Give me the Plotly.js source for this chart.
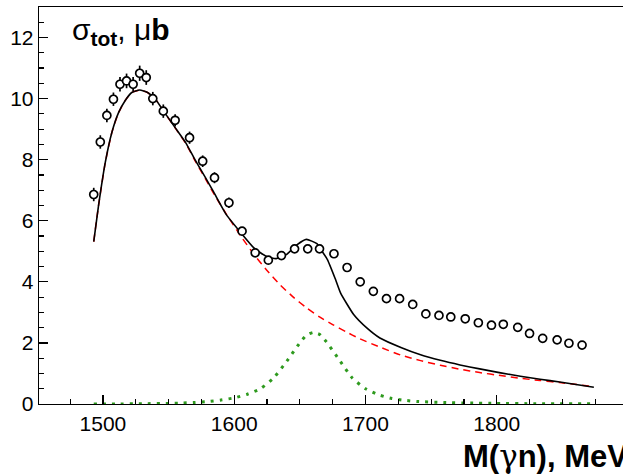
<!DOCTYPE html>
<html><head><meta charset="utf-8">
<script src="https://cdn.plot.ly/plotly-3.0.1.min.js"></script>
<style>html,body{margin:0;padding:0;overflow:hidden;background:#fff;width:623px;height:475px}#chart{width:640px;height:475px}</style>
</head><body><div id="chart"></div><script>
// Measured cross section
const dataX = [1493,1498,1503,1508,1513,1518,1523,1528,1533,1538,1546,1555,1566,1576,1585,1596,1606,1616,1626,1636,1646,1656,1665,1676,1686,1696,1706,1716,1726,1736,1746,1756,1765,1776,1786,1796,1805,1816,1825,1835,1846,1855,1865];
const dataY = [6.86,8.58,9.45,9.98,10.47,10.58,10.47,10.83,10.69,10.0,9.59,9.29,8.72,7.95,7.41,6.59,5.66,4.95,4.71,4.86,5.08,5.08,5.08,4.92,4.47,4.0,3.69,3.45,3.45,3.26,2.95,2.9,2.85,2.79,2.66,2.58,2.61,2.51,2.31,2.15,2.10,1.99,1.93];
const dataErr = [0.22,0.22,0.22,0.22,0.24,0.24,0.24,0.25,0.24,0.22,0.22,0.2,0.2,0.19,0.18,0.17,0.14,0.11,0.07,0.07,0.07,0.07,0.07,0.07,0.07,0.07,0.07,0.07,0.07,0.07,0.07,0.07,0.07,0.07,0.07,0.07,0.07,0.07,0.07,0.07,0.07,0.07,0.07];
// Total fit (black solid)
const totalX = [1493,1496.6,1501.8,1506.8,1511.9,1517,1522,1528,1534,1540,1547,1555,1563,1570,1578,1584,1594,1605,1615,1625,1632,1640,1648,1655,1663,1666,1671,1677,1681,1691,1701,1711,1727,1742,1757,1772,1787,1803,1818,1833,1848,1874];
const totalY = [5.32,6.48,7.91,8.89,9.54,9.94,10.2,10.28,10.2,9.98,9.54,9.05,8.56,8.01,7.42,6.97,6.2,5.61,5.11,4.82,4.76,4.9,5.22,5.39,5.25,5.06,4.73,4.1,3.64,2.93,2.49,2.16,1.85,1.61,1.43,1.28,1.15,1.02,0.91,0.81,0.72,0.55];
// Background (red dashed)
const bgX = [1493,1496.6,1501.8,1506.8,1511.9,1517,1522,1528,1534,1540,1547,1555,1563,1570,1578,1584,1594,1605,1615,1625,1635,1645,1655,1665,1675,1685,1695,1710,1727,1742,1757,1772,1787,1803,1818,1833,1848,1874];
const bgY = [5.32,6.48,7.91,8.89,9.54,9.94,10.2,10.28,10.2,9.98,9.54,9.04,8.54,7.98,7.38,6.92,6.22,5.5,4.9,4.37,3.9,3.5,3.15,2.85,2.6,2.37,2.15,1.88,1.6,1.42,1.27,1.14,1.03,0.93,0.84,0.77,0.70,0.57];
// Resonance contribution (green dotted)
const resX = [1493,1510,1530,1550,1560,1570,1580,1590,1600,1610,1620,1630,1640,1650,1655,1660,1665,1670,1680,1690,1700,1710,1720,1730,1740,1760,1780,1800,1830,1874];
const resY = [0,0,0.01,0.02,0.03,0.05,0.08,0.13,0.2,0.32,0.5,0.85,1.4,2.0,2.25,2.34,2.28,2.05,1.45,0.85,0.5,0.3,0.18,0.12,0.08,0.05,0.03,0.02,0.01,0.01];
const xTicks = [1500,1600,1700,1800];
const yTicks = [0,2,4,6,8,10,12];

const FONT = '"Liberation Sans", Arial, Helvetica, sans-serif';
const traces = [
  {x: resX, y: resY, mode:'lines', line:{color:'#2e9a1e', width:3, dash:'3px,6px', shape:'spline', smoothing:0.5}, hoverinfo:'skip'},
  {x: bgX, y: bgY, mode:'lines', line:{color:'#ff0000', width:1.5, dash:'7px,5px', shape:'spline', smoothing:0.5}, hoverinfo:'skip'},
  {x: totalX, y: totalY, mode:'lines', line:{color:'#000000', width:1.6, shape:'spline', smoothing:0.5}, hoverinfo:'skip'},
  {x: dataX, y: dataY, mode:'markers', marker:{symbol:'circle', size:8, color:'#ffffff', line:{color:'#000000', width:1.7}},
   error_y:{type:'data', array: dataErr, visible:true, color:'#000000', thickness:1.7, width:0}}
];
const axisCommon = {showgrid:false, zeroline:false, showline:true, linecolor:'#000', linewidth:1.3, mirror:true,
  ticks:'inside', ticklen:9, tickwidth:1.2, tickcolor:'#000', tickfont:{family:FONT, size:21, color:'#000'}};
const layout = {
  width:640, height:475, margin:{l:39, r:12, t:7, b:71},
  paper_bgcolor:'#fff', plot_bgcolor:'#fff', showlegend:false,
  xaxis: Object.assign({}, axisCommon, {range:[1451.3,1900], tickmode:'array', tickvals:xTicks, ticktext:xTicks.map(String),
    minor:{dtick:25, tick0:1450, ticks:'inside', ticklen:5, tickwidth:1.2, tickcolor:'#000'}}),
  yaxis: Object.assign({}, axisCommon, {range:[0,13], tickmode:'array', tickvals:yTicks, ticktext:yTicks.map(String),
    minor:{dtick:0.5, tick0:0, ticks:'inside', ticklen:5, tickwidth:1.2, tickcolor:'#000'}}),
  annotations:[
    {xref:'paper', yref:'paper', x:0.052, y:0.938, xanchor:'left', yanchor:'middle', showarrow:false,
     text:'σ<sub><b>tot</b></sub>, μ<b>b</b>', font:{family:FONT, size:30, color:'#000'}},
    {xref:'paper', yref:'paper', x:0.7167, y:-0.13, xanchor:'left', yanchor:'middle', showarrow:false,
     text:'<b>M(</b><span style="font-family:\'DejaVu Serif\'">γ</span><b>n), MeV</b>', font:{family:FONT, size:31, color:'#000'}}
  ]
};
Plotly.newPlot('chart', traces, layout, {staticPlot:true, displayModeBar:false});
</script></body></html>
